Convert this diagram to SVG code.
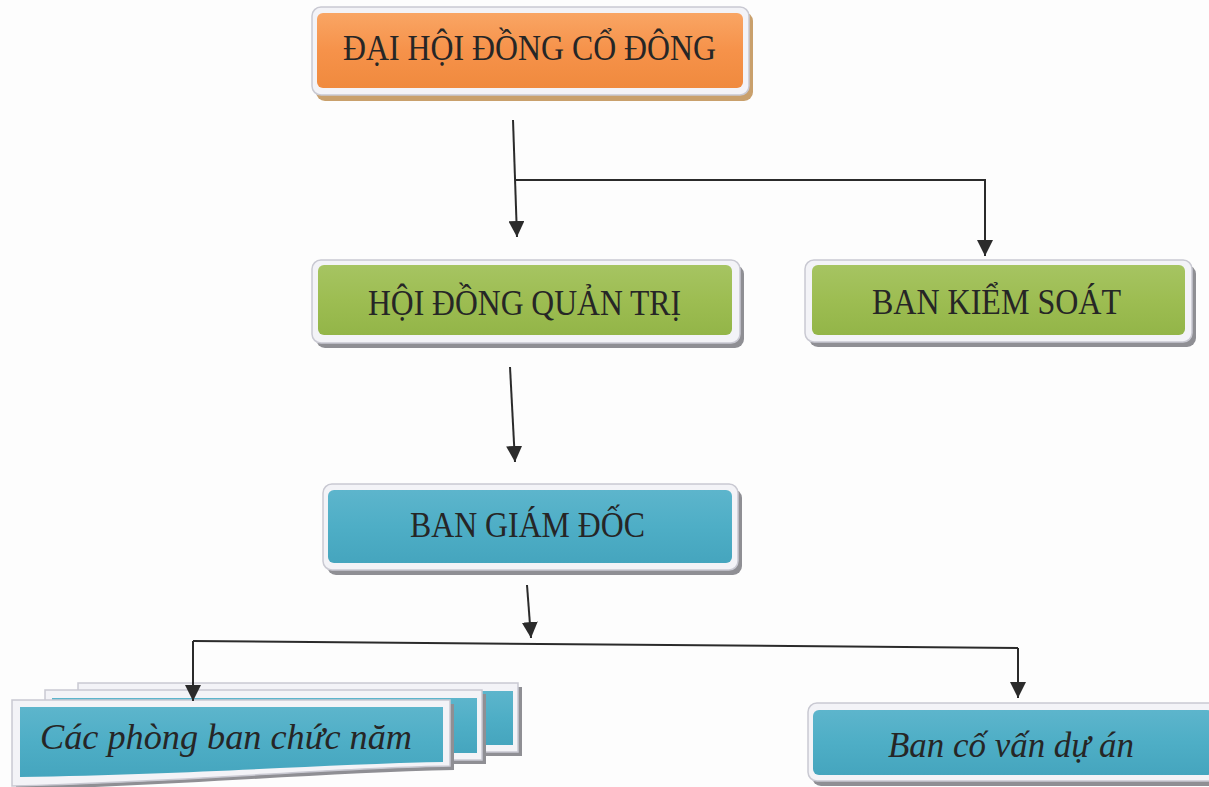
<svg xmlns="http://www.w3.org/2000/svg" width="1209" height="787" viewBox="0 0 1209 787">
<defs>
<style>
.frame{fill:#f3f3f7;stroke:#c9c9d2;stroke-width:1.5}
.shG{fill:#8f8f94}
.shO{fill:#c9a06c}
.t{font-family:"Liberation Serif","Times New Roman",serif;font-size:36px;fill:#262626}
.ti{font-family:"Liberation Serif","Times New Roman",serif;font-size:36px;font-style:italic;fill:#262626}
.conn{stroke:#2b2b2b;stroke-width:2;fill:none}
</style>
<linearGradient id="gO" x1="0" y1="0" x2="0" y2="1">
<stop offset="0" stop-color="#f9a564"/><stop offset="0.5" stop-color="#f6924a"/><stop offset="1" stop-color="#f08a3e"/>
</linearGradient>
<linearGradient id="gG" x1="0" y1="0" x2="0" y2="1">
<stop offset="0" stop-color="#a6c462"/><stop offset="0.5" stop-color="#9dbd52"/><stop offset="1" stop-color="#93b548"/>
</linearGradient>
<linearGradient id="gB" x1="0" y1="0" x2="0" y2="1">
<stop offset="0" stop-color="#5db5cc"/><stop offset="0.5" stop-color="#4eaec6"/><stop offset="1" stop-color="#45a5be"/>
</linearGradient>
<marker id="arr" viewBox="0 0 10 10" refX="10" refY="5" markerWidth="16" markerHeight="16" markerUnits="userSpaceOnUse" orient="auto">
<path d="M0,0 L10,5 L0,10 Z" fill="#2b2b2b"/>
</marker>
</defs>
<rect x="0" y="0" width="1209" height="787" fill="#fdfdfd"/>

<g id="dai-hoi-dong-co-dong">
<rect class="shO" x="316" y="12" width="437" height="89" rx="9"/>
<rect class="frame" x="312" y="7" width="437" height="88" rx="9"/>
<rect x="317" y="13" width="426" height="75" rx="6" fill="url(#gO)"/>
<text class="t" x="343" y="60" textLength="373" lengthAdjust="spacingAndGlyphs">ĐẠI HỘI ĐỒNG CỔ ĐÔNG</text>
</g>

<g id="hoi-dong-quan-tri">
<rect class="shG" x="316" y="265" width="428" height="83" rx="9"/>
<rect class="frame" x="312" y="260" width="428" height="83" rx="9"/>
<rect x="318" y="265" width="414" height="70" rx="6" fill="url(#gG)"/>
<text class="t" x="368" y="315" textLength="313" lengthAdjust="spacingAndGlyphs">HỘI ĐỒNG QUẢN TRỊ</text>
</g>

<g id="ban-kiem-soat">
<rect class="shG" x="809" y="265" width="387" height="82" rx="9"/>
<rect class="frame" x="805" y="260" width="387" height="82" rx="9"/>
<rect x="812" y="265" width="373" height="70" rx="6" fill="url(#gG)"/>
<text class="t" x="872" y="314" textLength="249" lengthAdjust="spacingAndGlyphs">BAN KIỂM SOÁT</text>
</g>

<g id="ban-giam-doc">
<rect class="shG" x="327" y="489" width="415" height="86" rx="9"/>
<rect class="frame" x="323" y="484" width="415" height="86" rx="9"/>
<rect x="328" y="490" width="404" height="73" rx="6" fill="url(#gB)"/>
<text class="t" x="410" y="537" textLength="235" lengthAdjust="spacingAndGlyphs">BAN GIÁM ĐỐC</text>
</g>

<g id="cac-phong-ban-chuc-nang">
<rect class="shG" x="82" y="687" width="440" height="69"/>
<rect class="frame" x="78" y="683" width="440" height="69"/>
<rect x="85" y="691" width="428" height="54" fill="url(#gB)"/>
<rect class="shG" x="49" y="694" width="437" height="70"/>
<rect class="frame" x="45" y="690" width="437" height="70"/>
<rect x="52" y="698" width="425" height="55" fill="url(#gB)"/>
<path class="shG" d="M16,704 H454 V770 C 340,772 200,784 16,790 Z"/>
<path class="frame" d="M12,700 H450 V766 C 330,768 200,781 12,786 Z"/>
<path d="M20,707 H443 V762 C 330,764 200,774 20,777 Z" fill="url(#gB)"/>
<text class="ti" x="40" y="749" textLength="372" lengthAdjust="spacingAndGlyphs">Các phòng ban chức năm</text>
</g>

<g id="ban-co-van-du-an">
<rect class="shG" x="812" y="708" width="410" height="78" rx="9"/>
<rect class="frame" x="808" y="703" width="410" height="78" rx="9"/>
<rect x="813" y="710" width="400" height="65" rx="6" fill="url(#gB)"/>
<text class="ti" x="888" y="757" textLength="246" lengthAdjust="spacingAndGlyphs">Ban cố vấn dự án</text>
</g>

<g id="connectors">
<path class="conn" d="M513,120 L517,237" marker-end="url(#arr)"/>
<path class="conn" d="M516,180 H985 V256" marker-end="url(#arr)"/>
<path class="conn" d="M510,367 L515,462" marker-end="url(#arr)"/>
<path class="conn" d="M527,585 L531,638" marker-end="url(#arr)"/>
<path class="conn" d="M193,641 L1018,648"/>
<path class="conn" d="M193,641 V701" marker-end="url(#arr)"/>
<path class="conn" d="M1018,648 V698" marker-end="url(#arr)"/>
</g>
</svg>
